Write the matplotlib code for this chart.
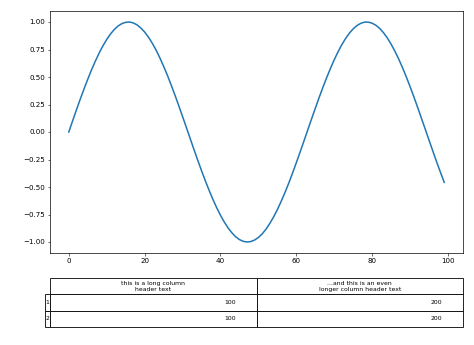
import matplotlib
matplotlib.use("Agg")
import matplotlib.pyplot as plt

x_vals = list(range(100))
y_vals = [
    0.000, 0.100, 0.199, 0.296, 0.389, 0.479, 0.565, 0.644, 0.717, 0.783,
    0.841, 0.891, 0.932, 0.964, 0.985, 0.997, 1.000, 0.992, 0.974, 0.946,
    0.909, 0.863, 0.808, 0.746, 0.675, 0.598, 0.516, 0.427, 0.335, 0.239,
    0.141, 0.042, -0.058, -0.158, -0.256, -0.351, -0.443, -0.530, -0.612, -0.688,
    -0.757, -0.818, -0.872, -0.916, -0.952, -0.978, -0.994, -1.000, -0.996, -0.982,
    -0.959, -0.926, -0.884, -0.832, -0.773, -0.706, -0.631, -0.551, -0.465, -0.374,
    -0.279, -0.182, -0.083, 0.017, 0.117, 0.215, 0.312, 0.405, 0.494, 0.578,
    0.657, 0.729, 0.794, 0.850, 0.899, 0.938, 0.968, 0.988, 0.999, 0.999,
    0.989, 0.970, 0.941, 0.902, 0.855, 0.798, 0.734, 0.663, 0.585, 0.501,
    0.412, 0.319, 0.223, 0.124, 0.025, -0.075, -0.174, -0.272, -0.366, -0.458,
]

# table contents
col_labels = ["this is a long column\nheader text",
              "...and this is an even\nlonger column header text"]
row_labels = ["1", "2"]
cell_text = [["100", "200"],
             ["100", "200"]]

fig = plt.figure(figsize=(4.74, 3.45), dpi=100)
ax = fig.add_axes([50 / 474, 1 - 253 / 345, 413 / 474, 242 / 345])
ax.plot(x_vals, y_vals, color="C0", linewidth=1.1)

ax.tick_params(labelsize=5.1, length=1.8, width=0.4, pad=1.8)
for sp in ax.spines.values():
    sp.set_linewidth(0.5)

# row label cells sit outside the grid bbox, just left of the axes
lab_w = 5 / 413
tbl = ax.table(cellText=cell_text, colLabels=col_labels,
               colWidths=[0.5, 0.5], cellLoc="right", colLoc="center",
               bbox=[0, -0.3058, 1, 0.2025])
tbl.auto_set_font_size(False)
h = tbl[(1, 0)].get_height()
for i, lab in enumerate(row_labels):
    tbl.add_cell(i + 1, -1, width=lab_w, height=h, text=lab, loc="left")
tbl.set_fontsize(4.4)
for cell in tbl.get_celld().values():
    cell.set_linewidth(0.6)

fig.savefig("out.png", dpi=100)
